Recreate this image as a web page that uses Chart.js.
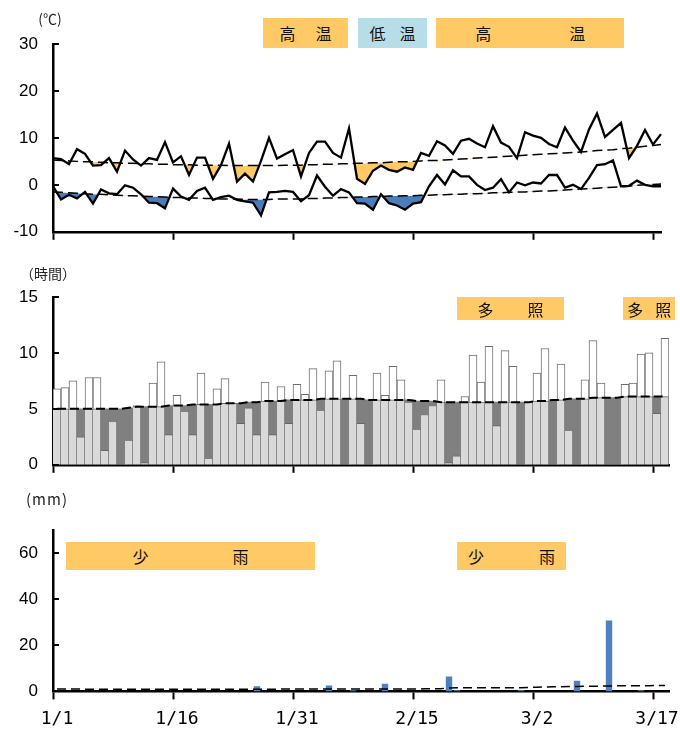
<!DOCTYPE html>
<html><head><meta charset="utf-8">
<script src="https://cdn.jsdelivr.net/npm/chart.js@4.4.1/dist/chart.umd.min.js"></script>
<style>
html,body{margin:0;padding:0;background:#fff}
body{width:680px;height:729px;position:relative;overflow:hidden;font-family:"Noto Sans CJK JP","Noto Sans",sans-serif}
canvas{position:absolute;left:0}
.unit{position:absolute;color:#222;white-space:nowrap;transform:translate(-50%,-50%);font-family:"Noto Sans CJK JP",sans-serif}
.banner{position:absolute;display:flex;align-items:center;justify-content:center;font-size:16px;color:#111;font-family:"Noto Sans CJK JP",sans-serif}
</style></head><body>
<canvas id="c1" width="680" height="257" style="top:0px"></canvas>
<canvas id="c2" width="680" height="240" style="top:250px"></canvas>
<canvas id="c3" width="680" height="260" style="top:480px"></canvas>
<div class="unit" style="left:50px;top:18px;font-size:14px">(℃)</div>
<div class="unit" style="left:48px;top:273px;font-size:14px">（時間）</div>
<div class="unit" style="left:47px;top:498px;font-size:15px;letter-spacing:1px">(mm)</div>
<script>
// ---- categories ----
const dates = ["1/1","1/2","1/3","1/4","1/5","1/6","1/7","1/8","1/9","1/10","1/11","1/12","1/13","1/14","1/15","1/16","1/17","1/18","1/19","1/20","1/21","1/22","1/23","1/24","1/25","1/26","1/27","1/28","1/29","1/30","1/31",
"2/1","2/2","2/3","2/4","2/5","2/6","2/7","2/8","2/9","2/10","2/11","2/12","2/13","2/14","2/15","2/16","2/17","2/18","2/19","2/20","2/21","2/22","2/23","2/24","2/25","2/26","2/27","2/28",
"3/1","3/2","3/3","3/4","3/5","3/6","3/7","3/8","3/9","3/10","3/11","3/12","3/13","3/14","3/15","3/16","3/17","3/18"];
const tickLabels = ["1/1","1/16","1/31","2/15","3/2","3/17"];

// ---- temperature (℃) ----
const tMax = [5.7,5.5,4.4,7.6,6.6,4.1,4.2,5.7,2.8,7.3,
 5.4,4.1,5.7,5.3,9.1,4.8,6.1,2.1,5.8,5.8,
 1.3,4.2,8.8,0.7,2.4,0.7,5.1,10.0,5.6,6.5,
 7.4,1.8,6.8,9.2,9.2,6.8,5.8,12.0,1.3,0.2,
 3.0,4.1,3.2,2.8,3.7,3.2,6.8,6.2,9.3,8.4,
 6.6,9.4,9.8,8.8,8.0,12.5,9.0,8.1,5.7,11.2,
 10.5,10.0,8.7,8.0,12.2,9.4,7.0,11.8,15.2,10.2,
 11.7,13.2,5.7,8.3,11.7,8.6,10.8];
const tMin = [-0.3,-3.1,-2.1,-2.9,-1.5,-4.0,-1.0,-1.8,-2.0,-0.1,
 -0.6,-2.0,-3.8,-3.9,-5.0,-0.8,-2.5,-3.2,-1.3,-0.6,
 -3.2,-2.6,-2.3,-3.2,-3.5,-3.8,-6.5,-1.6,-1.5,-1.3,
 -1.5,-3.5,-2.2,2.0,-0.4,-2.3,-0.9,-1.6,-3.9,-4.0,
 -5.3,-2.0,-3.9,-4.4,-5.3,-4.0,-3.7,-0.3,2.1,0.1,
 3.1,1.8,1.8,0.0,-1.1,-0.6,1.2,-1.6,0.5,-0.1,
 0.5,0.3,2.1,2.1,-0.6,0.0,-0.9,1.5,4.2,4.4,
 5.2,-0.3,-0.2,0.9,0.0,-0.3,-0.3];
const tMaxNormal = [5.3,5.2,5.1,5.0,4.9,4.9,4.8,4.7,4.7,4.6,
 4.6,4.5,4.5,4.4,4.4,4.3,4.3,4.3,4.2,4.2,
 4.2,4.2,4.1,4.1,4.1,4.1,4.1,4.1,4.1,4.2,
 4.2,4.2,4.3,4.3,4.4,4.4,4.5,4.5,4.6,4.6,
 4.7,4.7,4.8,4.9,4.9,5.0,5.1,5.2,5.2,5.3,
 5.4,5.5,5.6,5.7,5.8,5.9,6.0,6.1,6.2,6.3,
 6.4,6.5,6.6,6.7,6.8,6.9,7.0,7.1,7.3,7.4,
 7.5,7.7,7.8,8.0,8.2,8.4,8.6];
const tMinNormal = [-1.5,-1.6,-1.7,-1.8,-1.9,-2.0,-2.0,-2.1,-2.2,-2.3,
 -2.3,-2.4,-2.5,-2.5,-2.6,-2.7,-2.7,-2.8,-2.8,-2.9,
 -2.9,-3.0,-3.0,-3.0,-3.1,-3.1,-3.1,-3.1,-3.0,-3.0,
 -3.0,-3.0,-2.9,-2.9,-2.8,-2.8,-2.7,-2.7,-2.6,-2.6,
 -2.5,-2.5,-2.4,-2.4,-2.3,-2.3,-2.2,-2.2,-2.1,-2.1,
 -2.0,-2.0,-1.9,-1.9,-1.8,-1.7,-1.7,-1.6,-1.5,-1.5,
 -1.4,-1.3,-1.3,-1.2,-1.1,-1.0,-0.9,-0.8,-0.7,-0.6,
 -0.5,-0.4,-0.3,-0.1,0.0,0.1,0.2];
const tempTicks = [-10,0,10,20,30];

// ---- sunshine (hours) ----
const sunshine = [6.8,6.9,7.5,2.5,7.8,7.8,1.3,3.9,0,2.2,
 5.3,0.2,7.3,9.2,2.7,6.2,4.8,2.7,8.2,0.6,
 6.8,7.7,5.5,3.7,5.1,2.7,7.4,2.7,7.0,3.7,
 7.2,6.3,8.6,4.9,8.4,9.3,0,8.0,3.7,0,
 8.2,6.2,8.8,7.6,5.6,3.2,4.5,5.3,7.6,0.2,
 0.8,6.1,9.8,7.4,10.6,3.5,10.2,8.8,0,5.6,
 8.2,10.4,0,9.0,3.1,0,7.6,11.1,7.3,0,
 0,7.2,7.3,9.9,10.0,4.6,11.3];
const sunNormal = [5.0,5.0,5.0,5.0,5.0,5.0,5.0,5.0,5.0,5.1,
 5.2,5.2,5.2,5.2,5.3,5.3,5.3,5.4,5.4,5.4,
 5.4,5.5,5.5,5.5,5.6,5.6,5.7,5.7,5.7,5.8,
 5.8,5.8,5.8,5.9,5.9,5.9,5.9,5.9,5.9,5.8,
 5.8,5.8,5.8,5.8,5.8,5.7,5.7,5.7,5.6,5.6,
 5.6,5.6,5.6,5.6,5.6,5.6,5.6,5.6,5.6,5.6,
 5.7,5.7,5.8,5.8,5.9,5.9,5.9,6.0,6.0,6.0,
 6.0,6.1,6.1,6.1,6.1,6.1,6.1];
const sunTicks = [0,5,10,15];

// ---- precipitation (mm) ----
const precip = [0,0,0,0,0,0,0,0,0,0,
 0,0,0,0,0,0,0,0,0,0,
 0,0,0,0,0,2.2,0,0,0,0,
 0,0,0,0,2.6,0,0,0.5,0,0,
 0,3.3,0,0,0,0,0,0,0,6.5,
 0.5,0,0,0,0,0,0,0,0.5,0,
 0,0,0,0,0,4.6,0,0,0,30.7,
 0,0,0,0.5,0,0,0];
const precipNormal = [1.0,1.0,1.0,1.0,0.9,0.9,0.9,0.9,0.9,0.9,
 0.9,0.9,0.9,0.9,0.9,0.9,0.9,0.9,0.9,0.9,
 0.9,0.9,0.9,0.9,0.9,0.9,0.9,0.9,1.0,1.0,
 1.0,1.0,1.0,1.0,1.0,1.0,1.0,1.0,1.0,1.0,
 1.0,1.0,1.0,1.0,1.0,1.0,1.1,1.1,1.2,1.5,
 1.6,1.6,1.6,1.6,1.6,1.6,1.6,1.6,1.6,1.7,
 1.8,1.9,2.0,2.0,2.1,2.1,2.2,2.2,2.3,2.3,
 2.4,2.4,2.5,2.5,2.5,2.6,2.6];
const precipTicks = [0,20,40,60];

// ---- annotation banners (day ranges on the date axis, value ranges on y) ----
const tempBanners = [
  {chars:["高","温"], from:26.25, to:36.9, color:"#FFC965", gap:36},
  {chars:["低","温"], from:38.1, to:46.75, color:"#B7DEE8", gap:30},
  {chars:["高","温"], from:47.9, to:71.4, color:"#FFC965", gap:94}];
const sunBanners = [
  {chars:["多","照"], from:50.5, to:63.9, color:"#FFC965", gap:50},
  {chars:["多","照"], from:71.3, to:77.75, color:"#FFC965", gap:28}];
const rainBanners = [
  {chars:["少","雨"], from:1.6, to:32.75, color:"#FFC965", gap:100},
  {chars:["少","雨"], from:50.5, to:64.1, color:"#FFC965", gap:71}];

// ---------------------------------------------------------------
const tickIdx = tickLabels.map(l => dates.indexOf(l));
const LABEL_FONT = {family:'"Liberation Sans", Arial, sans-serif', size:17};

const yTickMarks = {
  id:'yTickMarks',
  afterDraw(chart){
    const y = chart.scales.y, ctx = chart.ctx, L = chart.chartArea.left;
    ctx.save(); ctx.strokeStyle = '#000'; ctx.lineWidth = 2;
    y.ticks.forEach(t => {
      const p = Math.round(y.getPixelForValue(t.value));
      ctx.beginPath(); ctx.moveTo(L, p); ctx.lineTo(L + 6, p); ctx.stroke();
    });
    ctx.restore();
  }
};

function xAxis(showLabels, offset){
  return {
    type:'category', offset: offset, position:'bottom',
    border:{display:true, color:'#000', width:2.5},
    grid:{display:true, drawOnChartArea:false, drawTicks:true, offset: offset, tickLength:8, tickWidth:2,
      tickColor: c => tickIdx.includes(c.index) ? '#000' : 'rgba(0,0,0,0)'},
    ticks:{display:showLabels, autoSkip:false, maxRotation:0, minRotation:0, padding:9, color:'#000',
      font:{family:'"DejaVu Sans Mono", monospace', size:18},
      callback:(v, i) => tickLabels.includes(dates[i]) ? dates[i] : ''}
  };
}
function yAxis(min, max, tickVals){
  return {
    min:min, max:max,
    border:{display:true, color:'#000', width:2.5},
    grid:{display:false, drawTicks:false},
    ticks:{color:'#000', font:LABEL_FONT, padding:15},
    afterBuildTicks: s => { s.ticks = tickVals.map(v => ({value:v})); },
    afterFit: s => { s.width = 53; }
  };
}
const common = {
  responsive:false, animation:false, events:[],
  plugins:{legend:{display:false}, tooltip:{enabled:false}, filler:{drawTime:'beforeDatasetsDraw'}}
};

// ---- chart 1: temperature ----
const c1 = new Chart(document.getElementById('c1'), {
  type:'line',
  data:{labels:dates, datasets:[
    {label:'最高気温', data:tMax, borderColor:'#000', borderWidth:2.3, pointRadius:0, tension:0,
      fill:{target:2, above:'rgba(0,0,0,0)', below:'#FFC965'}},
    {label:'最低気温', data:tMin, borderColor:'#000', borderWidth:2.3, pointRadius:0, tension:0,
      fill:{target:3, above:'rgba(0,0,0,0)', below:'#4A7EBB'}},
    {label:'平年最高', data:tMaxNormal, borderColor:'#000', borderWidth:1.5, borderDash:[10,5], pointRadius:0, fill:false},
    {label:'平年最低', data:tMinNormal, borderColor:'#000', borderWidth:1.5, borderDash:[10,5], pointRadius:0, fill:false}
  ]},
  options:Object.assign({}, common, {
    layout:{padding:{top:44, bottom:12, left:0, right:19}},
    scales:{x:xAxis(false, false), y:yAxis(-10, 30, tempTicks)}
  }),
  plugins:[yTickMarks]
});

// ---- chart 2: sunshine ----
const sunBase = sunshine.map((v,i) => Math.min(v, sunNormal[i]));
const sunShort = sunshine.map((v,i) => sunNormal[i] - v > 0 ? sunNormal[i] - v : null);
const sunOver = sunshine.map((v,i) => v - sunNormal[i] > 0 ? v - sunNormal[i] : null);
const c2 = new Chart(document.getElementById('c2'), {
  type:'bar',
  data:{labels:dates, datasets:[
    {label:'日照時間', data:sunBase.map(v => v > 0 ? v : null), backgroundColor:'#D9D9D9', borderColor:'#666666',
      borderWidth:{top:1, right:1, left:0, bottom:0}, borderSkipped:false, stack:'s', order:1,
      barPercentage:1, categoryPercentage:1},
    {label:'平年差(少)', data:sunShort, backgroundColor:'#808080', borderWidth:0, stack:'s', order:1,
      barPercentage:1, categoryPercentage:1},
    {label:'平年差(多)', data:sunOver, backgroundColor:'#FFFFFF', borderColor:'#6E6E6E',
      borderWidth:{top:1, right:1, left:1, bottom:0}, borderSkipped:false, stack:'s', order:1,
      barPercentage:1, categoryPercentage:1},
    {type:'line', label:'平年値', data:sunNormal, borderColor:'#000', borderWidth:2, borderDash:[9,4],
      pointRadius:0, fill:false, stack:'n', order:0}
  ]},
  options:Object.assign({}, common, {
    layout:{padding:{top:47, bottom:9, left:0, right:11}},
    scales:{x:Object.assign(xAxis(false, true), {stacked:true}), y:Object.assign(yAxis(0, 15, sunTicks), {stacked:true})}
  }),
  plugins:[yTickMarks]
});

// ---- chart 3: precipitation ----
const c3 = new Chart(document.getElementById('c3'), {
  type:'bar',
  data:{labels:dates, datasets:[
    {label:'降水量', data:precip.map(v => v > 0 ? v : null), backgroundColor:'#4F81BD', borderWidth:0,
      barPercentage:0.8, categoryPercentage:1, order:1},
    {type:'line', label:'平年値', data:precipNormal, borderColor:'#000', borderWidth:1.5, borderDash:[9,5],
      pointRadius:0, fill:false, order:0}
  ]},
  options:Object.assign({}, common, {
    layout:{padding:{top:50, bottom:1, left:0, right:11}},
    scales:{x:xAxis(true, true), y:yAxis(0, 70, precipTicks)}
  }),
  plugins:[yTickMarks]
});

// ---- banners positioned through the charts' scales ----
function placeBanners(chart, list, yTop, yBottom){
  const xs = chart.scales.x, ys = chart.scales.y;
  const off = xs.options.offset ? 0.5 : 0;
  const top0 = chart.canvas.offsetTop;
  list.forEach(b => {
    const x1 = xs.getPixelForValue(b.from - off), x2 = xs.getPixelForValue(b.to - off);
    const y1 = ys.getPixelForValue(yTop), y2 = ys.getPixelForValue(yBottom);
    const d = document.createElement('div');
    d.className = 'banner';
    d.style.left = x1 + 'px'; d.style.width = (x2 - x1) + 'px';
    d.style.top = (top0 + y1) + 'px'; d.style.height = (y2 - y1) + 'px';
    d.style.background = b.color;
    d.style.columnGap = (b.gap - 16) + 'px';
    b.chars.forEach(ch => { const s = document.createElement('span'); s.textContent = ch; d.appendChild(s); });
    document.body.appendChild(d);
  });
}
placeBanners(c1, tempBanners, 35.6, 29.1);
placeBanners(c2, sunBanners, 15.0, 12.9);
placeBanners(c3, rainBanners, 64.8, 52.6);
</script>
</body></html>
